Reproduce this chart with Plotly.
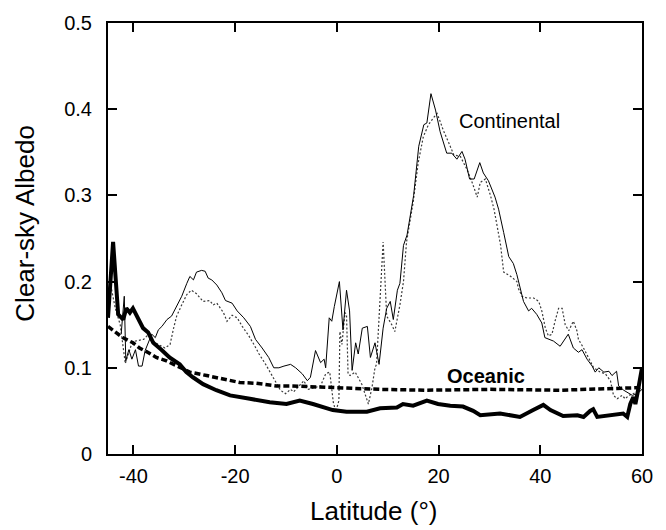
import plotly.graph_objects as go

# ---------------- data (latitude in degrees, clear-sky albedo) ----------------
cont_lat = [-42.4, -41.8, -41.5, -40.9, -40.3, -39.6, -39.0, -38.3, -37.7, -37.0,
            -36.4, -35.7, -35.1, -34.4, -33.4, -32.5, -31.5, -30.5, -29.5, -28.9,
            -28.2, -27.6, -26.6, -25.9, -25.3, -24.6, -23.6, -22.6, -21.9, -20.6,
            -19.6, -18.3, -17.0, -16.0, -14.7, -13.4, -12.4, -11.4, -10.4, -9.1,
            -8.1, -6.8, -5.8, -5.2, -4.2, -3.2, -2.5, -2.2, -1.5, -1.0,
            -0.5, 0.5, 1.2, 1.9, 2.5, 3.0, 3.7, 4.2, 5.0, 6.0,
            6.6, 7.5, 8.3, 9.1, 9.8, 10.5, 11.1, 11.9, 12.4, 13.1,
            13.8, 14.4, 15.1, 16.1, 17.1, 17.7, 18.5, 19.4, 20.3, 21.6,
            22.6, 23.6, 24.6, 25.2, 26.1, 27.0, 28.1, 28.8, 29.8, 31.1,
            31.8, 32.8, 33.8, 34.7, 35.4, 36.7, 37.7, 38.3, 39.3, 40.3,
            40.9, 42.6, 43.9, 45.5, 46.5, 47.5, 48.2, 49.2, 50.2, 50.8,
            51.5, 52.5, 53.5, 54.1, 55.0, 55.4, 56.4, 58.1, 59.1, 60.0]
cont_val = [0.140, 0.183, 0.108, 0.121, 0.110, 0.121, 0.102, 0.102, 0.120, 0.131,
            0.139, 0.135, 0.144, 0.148, 0.156, 0.160, 0.171, 0.183, 0.198, 0.206,
            0.202, 0.211, 0.213, 0.212, 0.204, 0.202, 0.196, 0.187, 0.178, 0.175,
            0.166, 0.158, 0.148, 0.133, 0.123, 0.112, 0.100, 0.100, 0.102, 0.104,
            0.100, 0.093, 0.085, 0.089, 0.120, 0.106, 0.110, 0.100, 0.158, 0.154,
            0.171, 0.200, 0.144, 0.190, 0.166, 0.097, 0.129, 0.116, 0.146, 0.148,
            0.112, 0.129, 0.104, 0.146, 0.169, 0.177, 0.156, 0.190, 0.198, 0.242,
            0.254, 0.277, 0.300, 0.357, 0.382, 0.384, 0.418, 0.399, 0.374, 0.349,
            0.349, 0.342, 0.351, 0.342, 0.319, 0.319, 0.338, 0.326, 0.317, 0.298,
            0.284, 0.257, 0.229, 0.221, 0.208, 0.177, 0.166, 0.169, 0.162, 0.152,
            0.135, 0.131, 0.125, 0.139, 0.123, 0.118, 0.121, 0.110, 0.102, 0.095,
            0.100, 0.095, 0.096, 0.091, 0.096, 0.079, 0.074, 0.068, 0.070, 0.075]

cont2_lat = [-44.6, -43.6, -42.6, -41.6, -40.5, -39.6, -38.0, -37.0, -36.1, -35.1,
             -33.8, -32.8, -32.1, -31.5, -30.5, -29.5, -28.6, -27.6, -26.3, -25.0,
             -24.3, -23.6, -22.3, -21.6, -20.6, -19.6, -18.6, -17.3, -16.3, -15.3,
             -14.0, -13.3, -12.1, -11.1, -10.1, -9.1, -8.5, -6.5, -5.6, -4.2,
             -3.2, -2.2, -1.4, -0.7, -0.2, 0.4, 0.6, 1.0, 1.6, 1.9,
             2.2, 2.6, 3.6, 4.9, 5.5, 6.2, 6.9, 7.5, 7.8, 9.1,
             9.8, 10.8, 11.4, 12.4, 13.1, 13.7, 15.0, 16.0, 17.0, 18.0,
             19.0, 19.7, 20.3, 20.9, 22.0, 23.0, 24.3, 25.6, 26.6, 27.6,
             28.2, 29.2, 30.2, 30.9, 31.5, 32.2, 32.8, 34.2, 35.4, 35.7,
             36.4, 37.4, 38.7, 39.7, 40.3, 41.0, 41.6, 42.3, 42.9, 43.6,
             44.3, 44.9, 45.6, 46.5, 47.2, 47.5, 48.5, 49.5, 50.5, 51.8,
             52.8, 53.8, 54.4, 55.1, 56.1, 56.7, 57.4, 58.3, 59.3]
cont2_val = [0.200, 0.170, 0.150, 0.105, 0.125, 0.131, 0.133, 0.139, 0.131, 0.127,
             0.123, 0.127, 0.146, 0.160, 0.173, 0.185, 0.190, 0.186, 0.177, 0.178,
             0.173, 0.175, 0.164, 0.154, 0.161, 0.158, 0.148, 0.137, 0.127, 0.116,
             0.104, 0.097, 0.085, 0.074, 0.070, 0.075, 0.072, 0.085, 0.075, 0.077,
             0.079, 0.093, 0.095, 0.060, 0.049, 0.062, 0.142, 0.127, 0.164, 0.162,
             0.093, 0.091, 0.095, 0.081, 0.070, 0.058, 0.077, 0.100, 0.104, 0.246,
             0.160, 0.150, 0.142, 0.173, 0.200, 0.246, 0.292, 0.338, 0.368, 0.382,
             0.390, 0.395, 0.386, 0.376, 0.361, 0.347, 0.345, 0.330, 0.315, 0.298,
             0.315, 0.319, 0.300, 0.284, 0.265, 0.242, 0.211, 0.206, 0.200, 0.192,
             0.183, 0.181, 0.181, 0.177, 0.166, 0.146, 0.137, 0.139, 0.154, 0.169,
             0.169, 0.150, 0.143, 0.154, 0.143, 0.133, 0.123, 0.112, 0.100, 0.095,
             0.093, 0.085, 0.068, 0.064, 0.068, 0.064, 0.068, 0.070, 0.074]

ocean_lat = [-45.0, -44.0, -43.0, -42.0, -41.4, -40.7, -40.1, -39.1, -38.1, -37.1,
             -36.1, -34.5, -32.9, -30.9, -29.6, -28.3, -26.3, -23.7, -21.0, -17.1,
             -13.2, -9.9, -7.3, -4.7, -0.8, 1.9, 5.9, 8.5, 11.8, 13.0,
             15.0, 17.7, 19.9, 22.3, 24.8, 26.8, 28.2, 32.1, 36.0, 38.6,
             40.6, 42.0, 44.5, 47.3, 48.5, 49.8, 50.4, 51.2, 53.2, 56.3,
             57.1, 57.7, 58.3, 58.7, 59.1, 59.5, 60.0]
ocean_val = [0.158, 0.246, 0.162, 0.156, 0.169, 0.164, 0.169, 0.158, 0.146, 0.141,
             0.129, 0.121, 0.112, 0.104, 0.095, 0.089, 0.081, 0.074, 0.068, 0.064,
             0.060, 0.058, 0.062, 0.058, 0.051, 0.049, 0.049, 0.053, 0.054, 0.058,
             0.056, 0.062, 0.058, 0.056, 0.055, 0.050, 0.045, 0.047, 0.043, 0.051,
             0.057, 0.051, 0.044, 0.045, 0.043, 0.050, 0.052, 0.043, 0.045, 0.047,
             0.043, 0.058, 0.066, 0.058, 0.070, 0.085, 0.100]

ocean2_lat = [-45.0, -43.3, -42.1, -40.1, -38.8, -37.2, -35.5, -33.5, -31.5, -28.9,
              -25.6, -22.4, -19.1, -15.8, -11.9, -9.2, -4.7, 1.9, 8.5, 17.7,
              30.1, 43.9, 51.8, 59.6, 60.0]
ocean2_val = [0.148, 0.141, 0.135, 0.129, 0.123, 0.118, 0.112, 0.108, 0.102, 0.095,
              0.091, 0.087, 0.083, 0.082, 0.079, 0.079, 0.078, 0.077, 0.075, 0.074,
              0.075, 0.074, 0.075, 0.077, 0.078]

x_ticks = [-40, -20, 0, 20, 40, 60]
x_ticktext = ["-40", "-20", "0", "20", "40", "60"]
y_ticks = [0, 0.1, 0.2, 0.3, 0.4, 0.5]
y_ticktext = ["0", "0.1", "0.2", "0.3", "0.4", "0.5"]

FONT = "Arial, 'Liberation Sans', sans-serif"

fig = go.Figure()
fig.add_trace(go.Scatter(x=cont2_lat, y=cont2_val, mode="lines",
                         line=dict(color="#3a3a3a", width=1.2, dash="2px,2px")))
fig.add_trace(go.Scatter(x=cont_lat, y=cont_val, mode="lines",
                         line=dict(color="black", width=1)))
fig.add_trace(go.Scatter(x=ocean2_lat, y=ocean2_val, mode="lines",
                         line=dict(color="black", width=3.5, dash="6px,3px")))
fig.add_trace(go.Scatter(x=ocean_lat, y=ocean_val, mode="lines",
                         line=dict(color="black", width=4)))

axis_common = dict(showline=True, linecolor="black", linewidth=2, mirror="ticks",
                   ticks="inside", ticklen=9, tickwidth=2, tickcolor="black",
                   showgrid=False, zeroline=False,
                   tickfont=dict(family=FONT, size=20, color="black"))

fig.update_xaxes(range=[-45, 60], tickvals=x_ticks, ticktext=x_ticktext,
                 ticklabelstandoff=3, **axis_common)
fig.update_yaxes(range=[0, 0.5], tickvals=y_ticks, ticktext=y_ticktext,
                 ticklabelstandoff=10, **axis_common)

fig.add_annotation(x=23.6, y=0.386, xref="x", yref="y", text="Continental",
                   showarrow=False, xanchor="left", yanchor="middle",
                   font=dict(family=FONT, size=20, color="black"))
fig.add_annotation(x=21.3, y=0.090, xref="x", yref="y", text="<b>Oceanic</b>",
                   showarrow=False, xanchor="left", yanchor="middle",
                   font=dict(family=FONT, size=20, color="black"))
fig.add_annotation(x=(25 - 108) / 534, y=(454 - 221) / 436, xref="paper", yref="paper",
                   text="Clear-sky Albedo", textangle=-90, showarrow=False,
                   xanchor="center", yanchor="middle",
                   font=dict(family=FONT, size=26, color="black"))
fig.add_annotation(x=(373 - 108) / 534, y=(454 - 512) / 436, xref="paper", yref="paper",
                   text="Latitude (°)", showarrow=False,
                   xanchor="center", yanchor="middle",
                   font=dict(family=FONT, size=26, color="black"))

fig.update_layout(width=666, height=530, showlegend=False,
                  margin=dict(l=108, r=24, t=18, b=76),
                  paper_bgcolor="white", plot_bgcolor="white",
                  font=dict(family=FONT, color="black"))

fig.write_html("out.html", config={"displayModeBar": False},
               post_script="document.body.style.margin='0px';"
                           "document.body.style.overflow='hidden';")
